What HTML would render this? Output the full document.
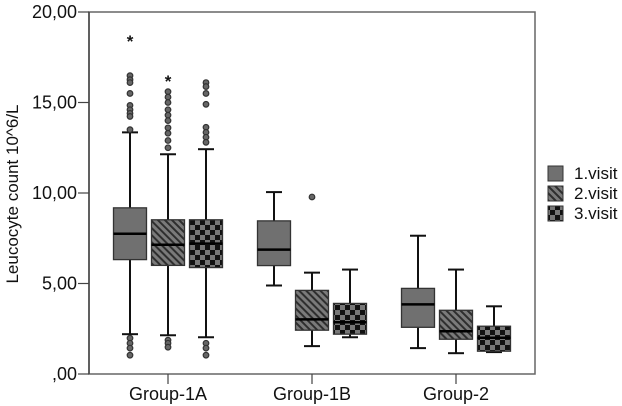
<!DOCTYPE html>
<html><head><meta charset="utf-8"><style>
body{margin:0;background:#fff;}
svg{display:block;font-family:"Liberation Sans",Arial,sans-serif;}
</style></head><body>
<svg id="chart" width="622" height="406" viewBox="0 0 622 406" xmlns="http://www.w3.org/2000/svg">
<defs>
<pattern id="hatch" width="5" height="5" patternUnits="userSpaceOnUse" patternTransform="rotate(-45)">
<rect width="5" height="5" fill="#7a7a7a"/><rect width="2" height="5" fill="#2e2e2e"/>
</pattern>
<pattern id="check" width="10" height="10" patternUnits="userSpaceOnUse">
<rect width="10" height="10" fill="#777"/><rect width="5" height="5" fill="#111"/><rect x="5" y="5" width="5" height="5" fill="#111"/>
</pattern>
</defs>
<g id="plot"></g>
</svg>
<script>
const groups = ["Group-1A","Group-1B","Group-2"];
const visits = ["1.visit","2.visit","3.visit"];
const yTicks = [0,5,10,15,20];
const yTickLabels = [",00","5,00","10,00","15,00","20,00"];
// [whiskerLow, q1, median, q3, whiskerHigh] per group, per visit
const visit1 = [[2.2,6.32,7.75,9.18,13.35],[4.89,5.99,6.87,8.46,10.05],[1.43,2.58,3.85,4.73,7.64]];
const visit2 = [[2.14,6.0,7.14,8.52,12.14],[1.54,2.42,3.02,4.62,5.6],[1.15,1.92,2.36,3.52,5.77]];
const visit3 = [[2.03,5.88,7.2,8.52,12.42],[2.03,2.2,2.86,3.9,5.77],[1.21,1.26,2.0,2.64,3.74]];
const outliers1 = [[16.48,16.26,16.1,15.5,14.84,14.6,14.4,14.23,13.5,1.98,1.7,1.43,1.04],[],[]];
const outliers2 = [[15.6,15.3,15.0,14.6,14.3,14.0,13.6,13.3,12.9,12.5,1.87,1.7,1.48],[9.78],[]];
const outliers3 = [[16.1,15.88,15.5,14.9,13.63,13.35,13.08,12.8,1.7,1.43,1.04],[],[]];
const extremes1 = [[18.5],[],[]];
const extremes2 = [[16.3],[],[]];
const extremes3 = [[],[],[]];

const NS="http://www.w3.org/2000/svg";
const g=document.getElementById('plot');
const X0=89,X1=535,Y0=374,Y1=12;
const y=v=>Y0-(v-0)/20*(Y0-Y1);
const groupX=i=>168+i*144;
const visitOff=j=>(j-1)*38;
const BW=33;
function mk(t,a,p){const e=document.createElementNS(NS,t);for(const k in a)e.setAttribute(k,a[k]);(p||g).appendChild(e);return e;}
let e=mk('path',{d:`M${X0},${Y1}H${X1}V${Y0}H${X0}Z`,fill:'none',stroke:'#666','stroke-width':1.5});

e=mk('line',{x1:X0,y1:Y1,x2:X0,y2:Y0,stroke:'#444','stroke-width':1.5});

yTicks.forEach((v,i)=>{
 let t=mk('line',{x1:X0-11,x2:X0,y1:y(v),y2:y(v),stroke:'#444','stroke-width':1.2});
 
 let l=mk('text',{x:X0-12,y:y(v)+6,'text-anchor':'end','font-size':18,fill:'#111'});l.textContent=yTickLabels[i];
 
});
groups.forEach((gname,i)=>{
 let t=mk('line',{x1:groupX(i),x2:groupX(i),y1:Y0,y2:Y0+10,stroke:'#444','stroke-width':1.2});
 
 let l=mk('text',{x:groupX(i),y:400,'text-anchor':'middle','font-size':18,fill:'#111'});l.textContent=gname;
 
});
let yt=mk('text',{x:0,y:0,transform:`translate(18,194) rotate(-90)`,'text-anchor':'middle','font-size':17,fill:'#111'});
yt.textContent='Leucocyte count 10^6/L';

const series=[visit1,visit2,visit3],outs=[outliers1,outliers2,outliers3],exts=[extremes1,extremes2,extremes3];
const fills=['#707070','url(#hatch)','url(#check)'];
series.forEach((s,j)=>{
 s.forEach((b,i)=>{
  const cx=groupX(i)+visitOff(j);
  const bg=mk('g',{});
  
  
  mk('line',{x1:cx,x2:cx,y1:y(b[0]),y2:y(b[4]),stroke:'#111','stroke-width':2},bg);
  mk('line',{x1:cx-8,x2:cx+8,y1:y(b[0]),y2:y(b[0]),stroke:'#111','stroke-width':2},bg);
  mk('line',{x1:cx-8,x2:cx+8,y1:y(b[4]),y2:y(b[4]),stroke:'#111','stroke-width':2},bg);
  mk('rect',{x:cx-BW/2,y:y(b[3]),width:BW,height:y(b[1])-y(b[3]),fill:fills[j],stroke:'#333','stroke-width':1.3},bg);
  mk('line',{x1:cx-BW/2,x2:cx+BW/2,y1:y(b[2]),y2:y(b[2]),stroke:'#000','stroke-width':2.5},bg);
  outs[j][i].forEach(v=>{
   const c=mk('circle',{cx:cx,cy:y(v),r:2.8,fill:'#666',stroke:'#333','stroke-width':1.2});
   
  });
  exts[j][i].forEach(v=>{
   const st=mk('text',{x:cx,y:y(v)+8,'text-anchor':'middle','font-size':17,'font-weight':'bold',fill:'#111'});st.textContent='*';
   
  });
 });
});
visits.forEach((v,j)=>{
 const lg=mk('g',{});
 
 
 const cy=173+j*20;
 mk('rect',{x:548,y:cy-7,width:15,height:15,fill:fills[j],stroke:'#333','stroke-width':1},lg);
 const t=mk('text',{x:574,y:cy+6,'font-size':17,fill:'#111'},lg);t.textContent=v;
});
</script>
</body></html>
